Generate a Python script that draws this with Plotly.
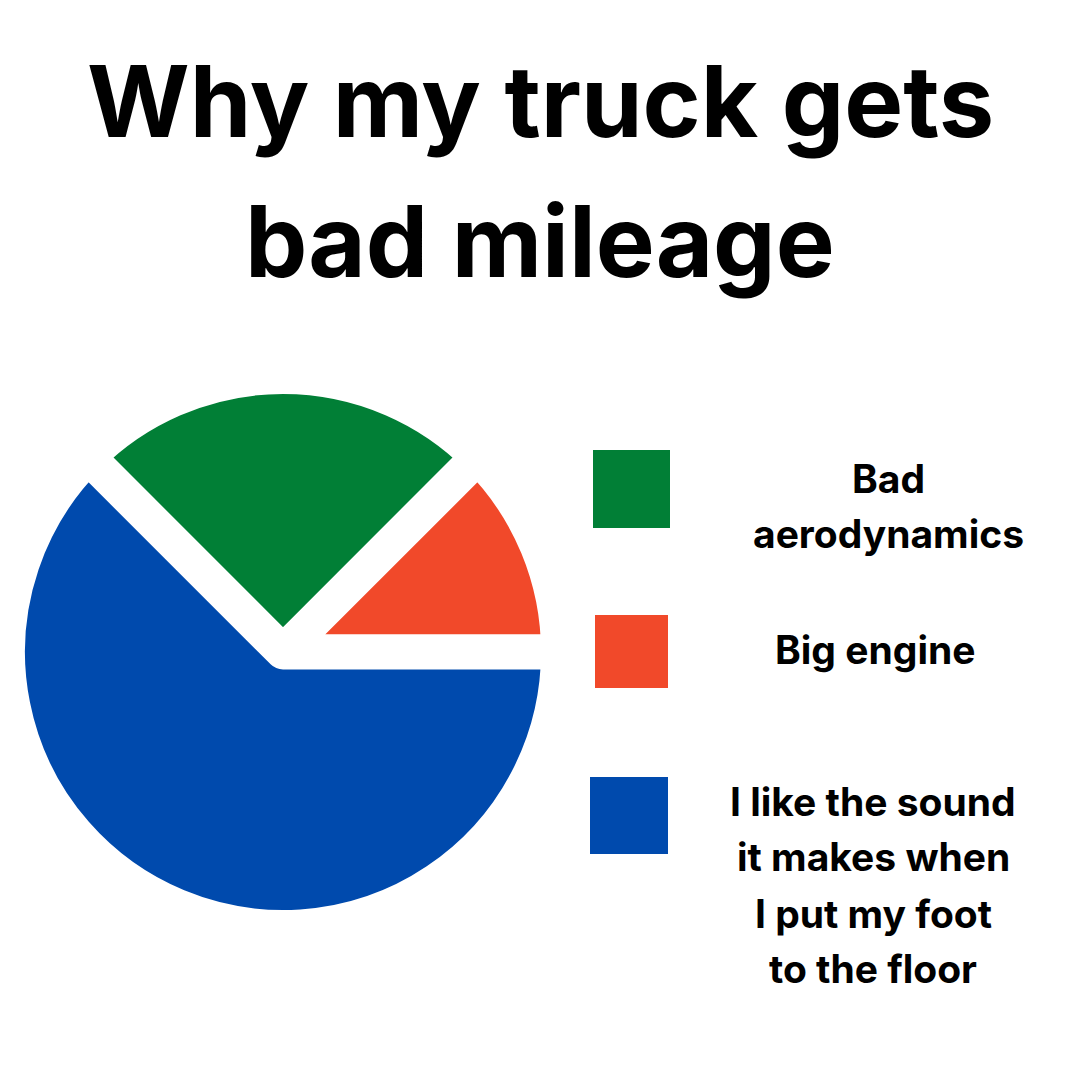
import plotly.graph_objects as go

# ---- data ----
title_lines = ["Why my truck gets", "bad mileage"]
categories = ["Bad aerodynamics", "Big engine",
              "I like the sound it makes when I put my foot to the floor"]
values = [25, 12.5, 62.5]
colors = ["#017f36", "#f1492a", "#004aad"]
legend_lines = [["Bad", "aerodynamics"],
                ["Big engine"],
                ["I like the sound", "it makes when", "I put my foot", "to the floor"]]

W = H = 1080
FONT = "Inter"

def py(v):
    return 1 - v / H

def px(v):
    return v / W

fig = go.Figure()

# pie: visible circle centre (283, 652), visible radius 258, white gaps of 35 px
gap = 35
r = 258 + gap / 2
cx, cy = 283, 652
fig.add_trace(go.Pie(
    labels=categories,
    values=values,
    marker=dict(colors=colors, line=dict(color="white", width=gap)),
    sort=False,
    direction="clockwise",
    rotation=-45,
    textinfo="none",
    hoverinfo="label+percent",
    showlegend=False,
    domain=dict(x=[px(cx - r), px(cx + r)], y=[py(cy + r), py(cy - r)]),
))

annotations = []
# title
title_y = [101, 241]
for t, yy in zip(title_lines, title_y):
    annotations.append(dict(
        text="<b>%s</b>" % t, x=0.5, y=py(yy), xref="paper", yref="paper",
        xanchor="center", yanchor="middle", showarrow=False,
        font=dict(family=FONT, size=99, color="black")))

# legend swatches and labels
swatches = [(593, 450, 670, 528), (595, 615, 668, 688), (590, 777, 668, 854)]
label_x = [888, 875, 873]
label_y = [[478, 533], [649], [801, 856, 913, 968]]
shapes = []
for col, (x0, y0, x1, y1), lines, lx, lys in zip(colors, swatches, legend_lines, label_x, label_y):
    shapes.append(dict(type="rect", xref="paper", yref="paper",
                       x0=px(x0), x1=px(x1), y0=py(y1), y1=py(y0),
                       fillcolor=col, line=dict(width=0)))
    for ln, yy in zip(lines, lys):
        annotations.append(dict(
            text="<b>%s</b>" % ln, x=px(lx), y=py(yy), xref="paper", yref="paper",
            xanchor="center", yanchor="middle", showarrow=False,
            font=dict(family=FONT, size=39, color="black")))

fig.update_layout(
    width=W, height=H,
    margin=dict(l=0, r=0, t=0, b=0),
    paper_bgcolor="white", plot_bgcolor="white",
    annotations=annotations, shapes=shapes,
    showlegend=False,
)

fig.write_html("out.html")
